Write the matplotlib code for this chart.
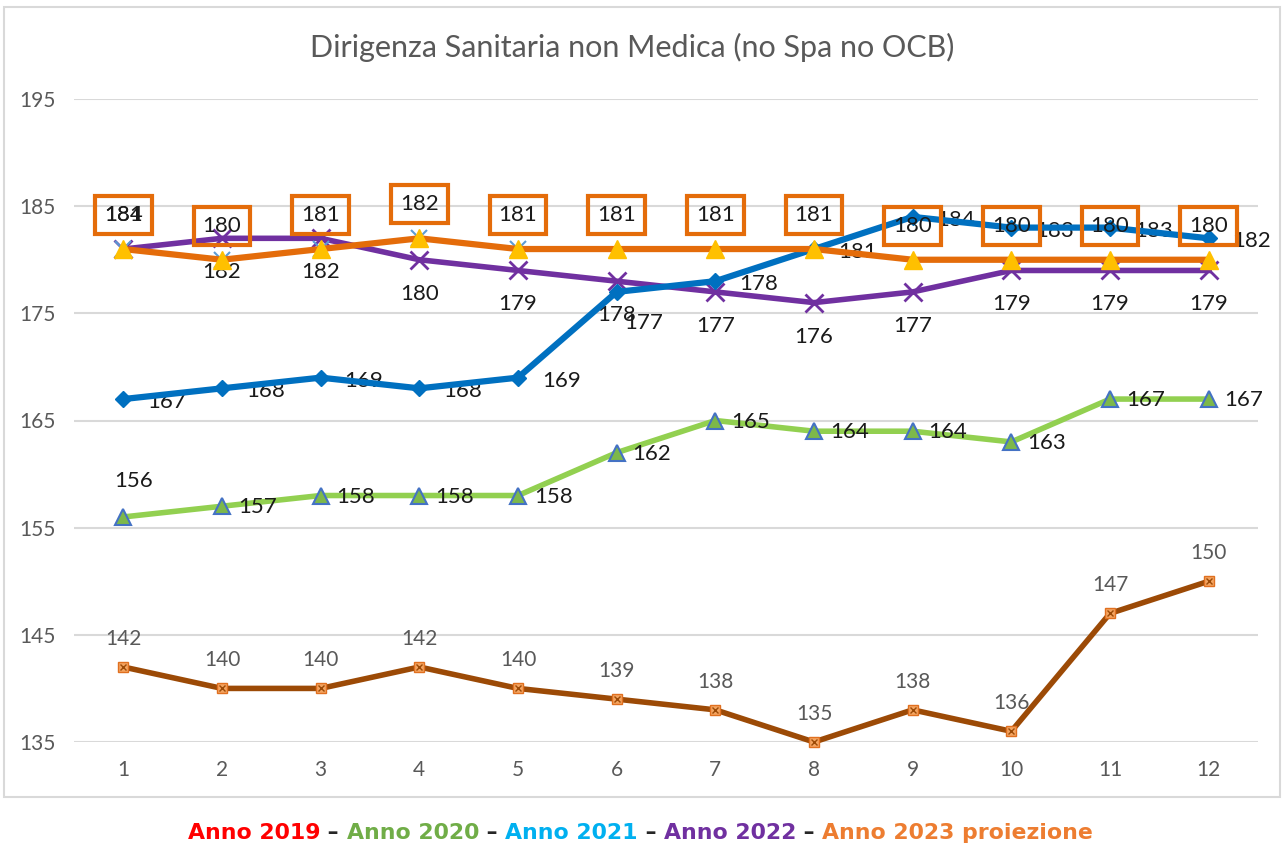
import matplotlib
matplotlib.use("Agg")
import matplotlib.pyplot as plt
from matplotlib.patches import Rectangle

months = list(range(1, 13))
anno_2019 = [142, 140, 140, 142, 140, 139, 138, 135, 138, 136, 147, 150]
anno_2020 = [156, 157, 158, 158, 158, 162, 165, 164, 164, 163, 167, 167]
anno_2021 = [167, 168, 169, 168, 169, 177, 178, 181, 184, 183, 183, 182]
anno_2022 = [181, 182, 182, 180, 179, 178, 177, 176, 177, 179, 179, 179]
anno_2023 = [181, 180, 181, 182, 181, 181, 181, 181, 180, 180, 180, 180]
hidden_x = [1, 2, 3, 4, 5]
hidden_vals = [181, 180, 181, 182, 181]
yticks = [135, 145, 155, 165, 175, 185, 195]

title = "Dirigenza Sanitaria non Medica (no Spa no OCB)"
footer = [("Anno 2019", "#FF0000"), (" \u2013 ", "#262626"),
          ("Anno 2020", "#70AD47"), (" \u2013 ", "#262626"),
          ("Anno 2021", "#00B0F0"), (" \u2013 ", "#262626"),
          ("Anno 2022", "#7030A0"), (" \u2013 ", "#262626"),
          ("Anno 2023 proiezione", "#ED7D31")]

plt.rcParams["font.family"] = ["Lato", "DejaVu Sans"]

W, H = 1283, 848
fig = plt.figure(figsize=(W / 100, H / 100), dpi=100)
fig.patch.set_facecolor("white")

# chart frame
fig.add_artist(Rectangle((4 / W, 1 - 797 / H), 1276 / W, 790 / H,
                         transform=fig.transFigure, fill=False,
                         edgecolor="#D9D9D9", lw=1.5))

ax = fig.add_axes([74 / W, 1 - 742 / H, 1184 / W, 643 / H])
ax.set_xlim(0.5, 12.5)
ax.set_ylim(135, 195)
ax.set_yticks(yticks)
ax.set_xticks(months)
ax.grid(axis="y", color="#D9D9D9", lw=1.5)
ax.set_axisbelow(True)
for s in ax.spines.values():
    s.set_visible(False)
ax.tick_params(length=0, labelsize=15, labelcolor="#595959")
ax.tick_params(axis="y", pad=13)
ax.tick_params(axis="x", pad=13)

fig.text(632 / W, 1 - 47 / H, title, ha="center", va="center",
         fontsize=22, color="#595959")

txt = "#1A1A1A"
lab = 16

# 2019
ax.plot(months, anno_2019, color="#9C4A06", lw=4, marker="s", ms=7,
        mfc="#F4A460", mec="#E07020", clip_on=False, zorder=3)
ax.plot(months, anno_2019, ls="none", marker="x", ms=5, mec="#9C4A06",
        mew=1, clip_on=False, zorder=4)
for x, v in zip(months, anno_2019):
    ax.annotate(str(v), (x, v), xytext=(0, 28), textcoords="offset pixels",
                ha="center", va="center", fontsize=15, color="#595959")

# 2020
ax.plot(months, anno_2020, color="#92D050", lw=4, marker="^", ms=12,
        mfc="#7DB84A", mec="#4472C4", mew=1.5, zorder=3)
for i, (x, v) in enumerate(zip(months, anno_2020)):
    if i == 0:
        ax.annotate(str(v), (x, v), xytext=(10, 36), textcoords="offset pixels",
                    ha="center", va="center", fontsize=lab, color=txt)
    else:
        ax.annotate(str(v), (x, v), xytext=(16, -1), textcoords="offset pixels",
                    ha="left", va="center", fontsize=lab, color=txt)

# 2021
ax.plot(months, anno_2021, color="#0070C0", lw=4.5, marker="D", ms=8,
        mfc="#0070C0", mec="#0070C0", zorder=4)
for i, (x, v) in enumerate(zip(months, anno_2021)):
    off = (8, -31) if i == 5 else (24, -3)
    ax.annotate(str(v), (x, v), xytext=off, textcoords="offset pixels",
                ha="left", va="center", fontsize=lab, color=txt)

# 2022
ax.plot(months, anno_2022, color="#7030A0", lw=4, marker="x", ms=13,
        mew=2, zorder=3)
for i, (x, v) in enumerate(zip(months, anno_2022)):
    if i == 0:
        continue
    ax.annotate(str(v), (x, v), xytext=(0, -34), textcoords="offset pixels",
                ha="center", va="center", fontsize=lab, color=txt)

# hidden projection markers
ax.plot(hidden_x, hidden_vals, ls="none", marker="x", ms=11, mew=1.5,
        color="#5B9BD5", zorder=4)

# 2023
ax.plot(months, anno_2023, color="#E46C0A", lw=4.5, marker="^", ms=13,
        mfc="#FFC000", mec="#FFC000", zorder=5)
for i, (x, v) in enumerate(zip(months, anno_2023)):
    ax.annotate(str(v), (x, v), xytext=(0, 34), textcoords="offset pixels",
                ha="center", va="center", fontsize=lab, color=txt, zorder=6,
                bbox=dict(boxstyle="square,pad=0.4", fc="none",
                          ec="#E46C0A", lw=3))
    if i == 0:
        ax.annotate("184", (x, v), xytext=(0, 34), textcoords="offset pixels",
                    ha="center", va="center", fontsize=lab, color=txt, zorder=6)

# coloured footer, pieces chained one after another
fsz = 15.8
prev = fig.text(188 / W, 1 - 833 / H, footer[0][0], ha="left", va="center",
                fontsize=fsz, fontweight="bold", color=footer[0][1],
                family="DejaVu Sans")
for s, c in footer[1:]:
    prev = ax.annotate(s, xy=(1, 0.5), xycoords=prev, ha="left", va="center",
                       fontsize=fsz, fontweight="bold", color=c,
                       family="DejaVu Sans", annotation_clip=False)

fig.savefig("out.png", dpi=100)
